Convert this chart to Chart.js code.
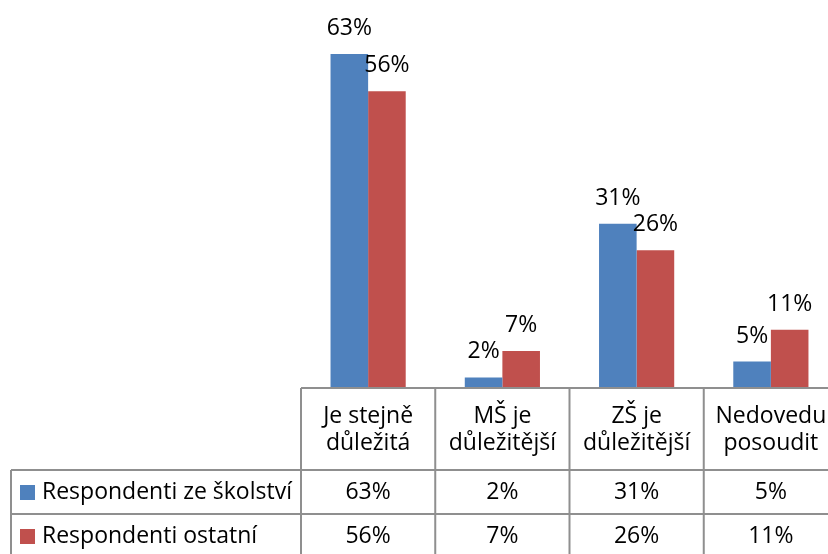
<!DOCTYPE html>
<html>
<head>
<meta charset="utf-8">
<script src="https://cdn.jsdelivr.net/npm/chart.js@4/dist/chart.umd.min.js"></script>
<style>
    html, body { margin: 0; padding: 0; background: #fff; overflow: hidden; }
    #wrap { width: 840px; height: 554px; position: relative; }
</style>
</head>
<body>
<div id="wrap"><canvas id="survey"></canvas></div>
<script>
var categories = [
    ['Je stejně', 'důležitá'],
    ['MŠ je', 'důležitější'],
    ['ZŠ je', 'důležitější'],
    ['Nedovedu', 'posoudit']
];
var seriesNames = ['Respondenti ze školství', 'Respondenti ostatní'];
var skolstvi = [63, 2, 31, 5];
var ostatni = [56, 7, 26, 11];

var blue = '#4f81bd';
var red = '#c0504d';
var lineColor = '#8f8f8f';
var fontFace = "'Open Sans', sans-serif";
var fontSize = 23;

// value labels above the bars + the data table under the plot
var tablePlugin = {
    id: 'dataTable',
    afterDatasetsDraw: function (chart) {
        var ctx = chart.ctx;
        ctx.save();
        ctx.font = fontSize + 'px ' + fontFace;
        ctx.fillStyle = '#000';
        ctx.textAlign = 'center';
        ctx.textBaseline = 'alphabetic';
        chart.data.datasets.forEach(function (ds, i) {
            chart.getDatasetMeta(i).data.forEach(function (bar, j) {
                ctx.fillText(ds.data[j] + '%', bar.x, bar.y - 19);
            });
        });
        ctx.restore();
    },
    afterDraw: function (chart) {
        var ctx = chart.ctx;
        var area = chart.chartArea;
        var xs = chart.scales.x;
        var n = categories.length;
        var colW = (area.right - area.left) / n;
        var top = area.bottom;
        var row1 = 470;
        var row2 = 514;
        var bottom = chart.height;
        var legendLeft = 11;

        ctx.save();
        ctx.strokeStyle = lineColor;
        ctx.lineWidth = 2;
        ctx.beginPath();
        ctx.moveTo(area.left, top); ctx.lineTo(chart.width, top);
        ctx.moveTo(legendLeft, row1); ctx.lineTo(chart.width, row1);
        ctx.moveTo(legendLeft, row2); ctx.lineTo(chart.width, row2);
        ctx.moveTo(legendLeft, row1); ctx.lineTo(legendLeft, bottom);
        for (var c = 0; c < n; c++) {
            var lx = area.left + c * colW;
            ctx.moveTo(lx, top); ctx.lineTo(lx, bottom);
        }
        ctx.stroke();

        ctx.font = fontSize + 'px ' + fontFace;
        ctx.fillStyle = '#000';
        ctx.textAlign = 'center';
        ctx.textBaseline = 'middle';
        for (var k = 0; k < n; k++) {
            var cx = xs.getPixelForValue(k);
            ctx.fillText(categories[k][0], cx, 416);
            ctx.fillText(categories[k][1], cx, 443);
            ctx.fillText(skolstvi[k] + '%', cx, (row1 + row2) / 2);
            ctx.fillText(ostatni[k] + '%', cx, row2 + 22);
        }

        var colors = [blue, red];
        var rows = [(row1 + row2) / 2, row2 + 22];
        ctx.textAlign = 'left';
        for (var r = 0; r < seriesNames.length; r++) {
            ctx.fillStyle = colors[r];
            ctx.fillRect(20, rows[r] - 7, 15, 15);
            ctx.fillStyle = '#000';
            ctx.fillText(seriesNames[r], 42, rows[r]);
        }
        ctx.restore();
    }
};

var ctx1 = document.getElementById('survey').getContext('2d');

var surveyChart = new Chart(ctx1, {
    type: 'bar',
    data: {
        labels: categories,
        datasets: [
            { label: seriesNames[0], data: skolstvi, backgroundColor: blue },
            { label: seriesNames[1], data: ostatni, backgroundColor: red }
        ]
    },
    options: {
        responsive: true,
        maintainAspectRatio: false,
        animation: false,
        layout: { padding: { left: 301, right: 2, top: 17, bottom: 166 } },
        categoryPercentage: 0.56,
        barPercentage: 1,
        scales: {
            x: { display: false },
            y: { display: false, min: 0, max: 70 }
        },
        plugins: {
            legend: { display: false },
            tooltip: { enabled: false }
        }
    },
    plugins: [tablePlugin]
});
</script>
</body>
</html>
